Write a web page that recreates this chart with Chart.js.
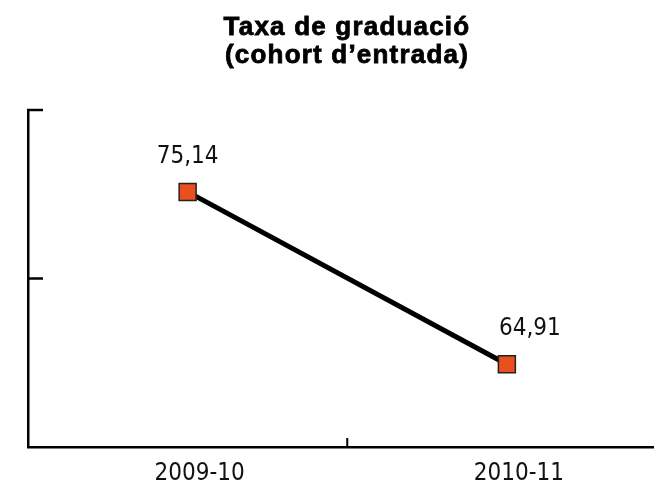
<!DOCTYPE html>
<html>
<head>
<meta charset="utf-8">
<script src="https://cdn.jsdelivr.net/npm/chart.js@4"></script>
<style>
  html, body { margin: 0; padding: 0; background: #fff; overflow: hidden; }
  #wrap { position: relative; width: 654px; height: 490px; overflow: hidden; }
  #title {
    position: absolute; left: 0; top: 12px; width: 694px;
    text-align: center; font: bold 26px "Liberation Sans", Arial, sans-serif;
    line-height: 28px; letter-spacing: 1.2px; color: #000;
    -webkit-text-stroke: 0.8px #000;
  }
  canvas { position: absolute; left: 0; top: 0; }
</style>
</head>
<body>
<div id="wrap">
  <canvas id="myChart" width="680" height="490"></canvas>
  <div id="title">Taxa de graduació<br>(cohort d’entrada)</div>
</div>
<script>
const categories = ['2009-10', '2010-11'];
const taxaGraduacio = [75.14, 64.91];
const yTickValues = [70, 80];

const narrowFont = '"Liberation Sans Narrow", "DejaVu Sans Condensed", "Liberation Sans", sans-serif';

// small tick marks pointing into the plot, plus the value labels
const extras = {
  id: 'extras',
  afterDatasetsDraw(chart) {
    const { ctx, chartArea, scales: { x, y } } = chart;
    ctx.save();
    ctx.strokeStyle = '#000';
    ctx.lineWidth = 2.5;
    yTickValues.forEach(v => {
      const py = y.getPixelForValue(v);
      ctx.beginPath();
      ctx.moveTo(chartArea.left - 1, py);
      ctx.lineTo(chartArea.left + 15, py);
      ctx.stroke();
    });
    const mid = (x.getPixelForValue(0) + x.getPixelForValue(1)) / 2;
    ctx.lineWidth = 2;
    ctx.beginPath();
    ctx.moveTo(mid, chartArea.bottom);
    ctx.lineTo(mid, chartArea.bottom - 9);
    ctx.stroke();

    const labelDx = [0, 23];
    ctx.font = '24px ' + narrowFont;
    ctx.fillStyle = '#111';
    ctx.textAlign = 'center';
    ctx.textBaseline = 'alphabetic';
    chart.getDatasetMeta(0).data.forEach((pt, i) => {
      const txt = taxaGraduacio[i].toFixed(2).replace('.', ',');
      ctx.fillText(txt, pt.x + labelDx[i], pt.y - 29);
    });
    ctx.restore();
  }
};

const data = {
  labels: categories,
  datasets: [{
    data: taxaGraduacio,
    borderColor: '#000',
    borderWidth: 5,
    tension: 0,
    pointStyle: 'rect',
    pointRadius: 12,
    pointBackgroundColor: '#E8501E',
    pointBorderColor: '#222',
    pointBorderWidth: 1.5,
  }]
};

const config = {
  type: 'line',
  data: data,
  options: {
    responsive: false,
    animation: false,
    layout: { padding: { top: 110, left: 0, right: 13, bottom: 0 } },
    plugins: {
      legend: { display: false },
      tooltip: { enabled: false },
    },
    scales: {
      x: {
        offset: true,
        grid: { display: false, drawTicks: false },
        border: { display: true, color: '#000', width: 2.5 },
        ticks: {
          color: '#111',
          font: { family: narrowFont, size: 24 },
          padding: 12,
          labelOffset: 12,
          maxRotation: 0,
        },
        afterFit(scale) { scale.height = 43; },
      },
      y: {
        min: 60,
        max: 80,
        grid: { display: false, drawTicks: false },
        border: { display: true, color: '#000', width: 2.5 },
        ticks: { display: false, stepSize: 10 },
        afterFit(scale) { scale.width = 28; },
      },
    }
  },
  plugins: [extras],
};

const myChart = new Chart(document.getElementById('myChart'), config);
</script>
</body>
</html>
